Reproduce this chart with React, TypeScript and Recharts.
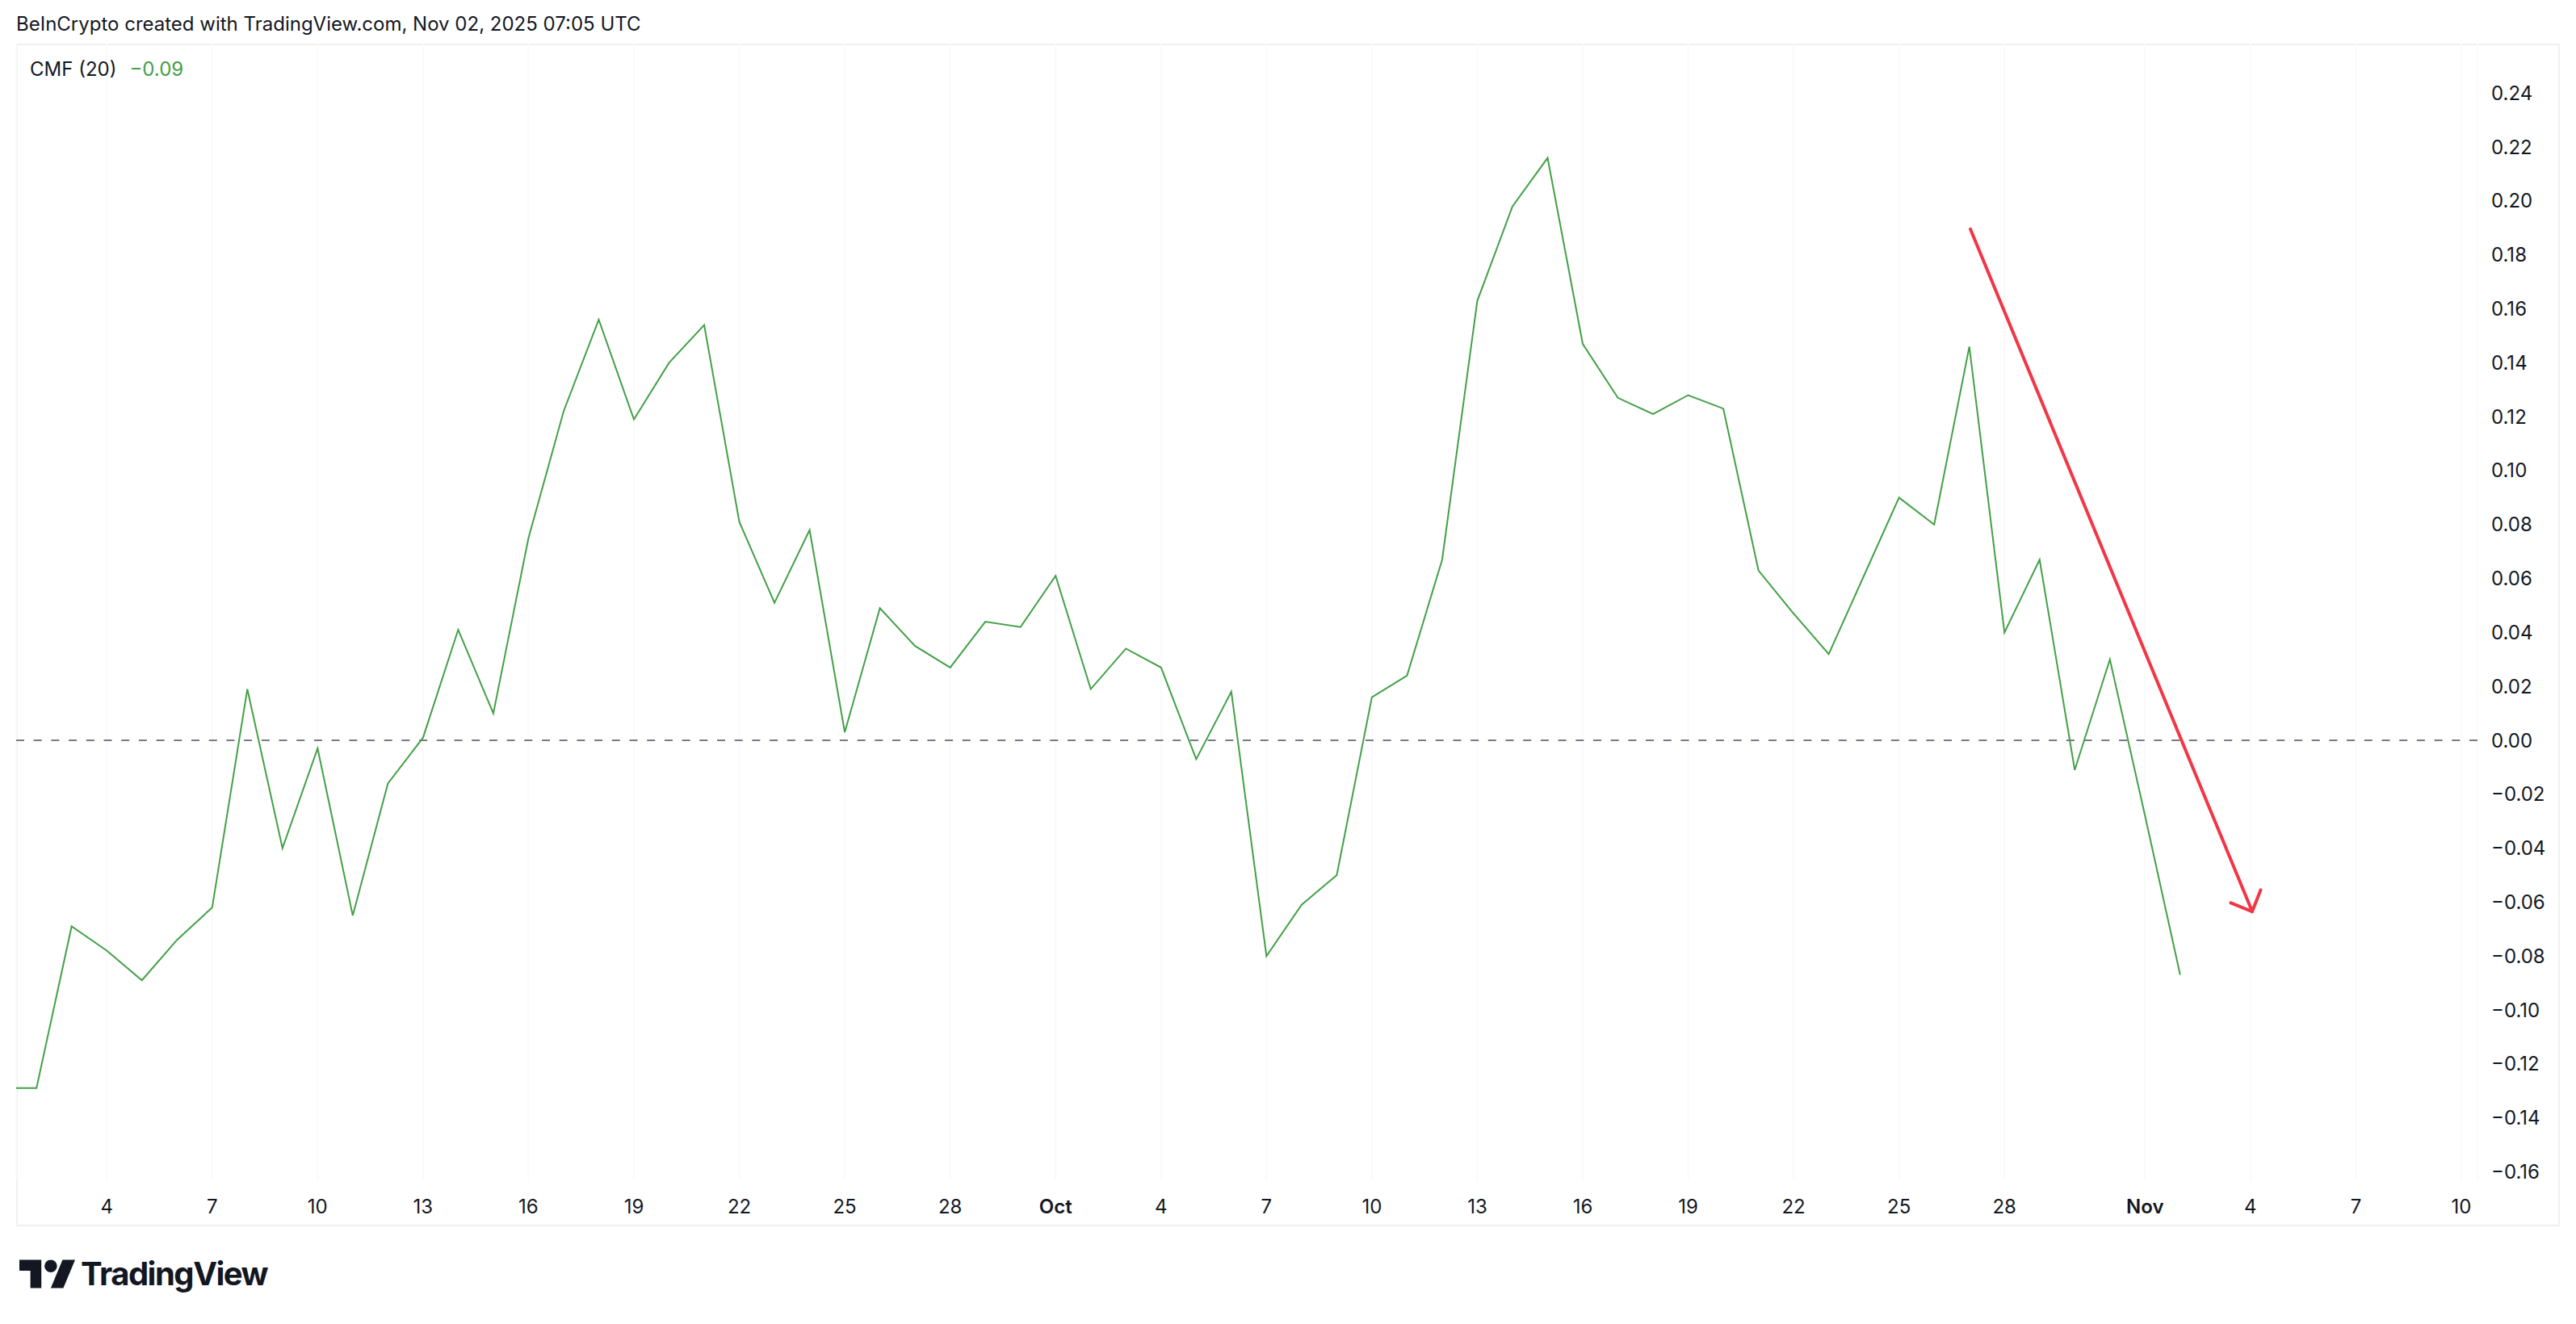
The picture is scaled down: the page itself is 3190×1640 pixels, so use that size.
import { LineChart, Line, XAxis, YAxis, CartesianGrid, ReferenceLine } from 'recharts';

// CMF (20), one value per day, Sep 1 -> Nov 2 2025 (index 0 = Sep 1)
const cmf = [
  -0.129, -0.129, -0.069, -0.078, -0.089, -0.074, -0.062, 0.019, -0.040, -0.003,
  -0.065, -0.016, 0.001, 0.041, 0.010, 0.075, 0.122, 0.156, 0.119, 0.140,
  0.154, 0.081, 0.051, 0.078, 0.003, 0.049, 0.035, 0.027, 0.044, 0.042,
  0.061, 0.019, 0.034, 0.027, -0.007, 0.018, -0.080, -0.061, -0.050, 0.016,
  0.024, 0.067, 0.163, 0.198, 0.216, 0.147, 0.127, 0.121, 0.128, 0.123,
  0.063, 0.047, 0.032, 0.061, 0.090, 0.080, 0.146, 0.040, 0.067, -0.011,
  0.030, -0.028, -0.087,
];

// x-axis ticks (day index from Sep 1) and their labels
const tickDays = [3, 6, 9, 12, 15, 18, 21, 24, 27, 30, 33, 36, 39, 42, 45, 48, 51, 54, 57, 61, 64, 67, 70];
const tickLabels = ['4', '7', '10', '13', '16', '19', '22', '25', '28', 'Oct', '4', '7', '10', '13', '16', '19', '22', '25', '28', 'Nov', '4', '7', '10'];
const monthLabels = ['Oct', 'Nov'];

const yTicks = [-0.16, -0.14, -0.12, -0.1, -0.08, -0.06, -0.04, -0.02, 0, 0.02, 0.04, 0.06, 0.08, 0.1, 0.12, 0.14, 0.16, 0.18, 0.2, 0.22, 0.24];

// red annotation arrow (day index, value)
const arrowShaft = [
  { day: 56.03, v: 0.1896 },
  { day: 64.05, v: -0.0635 },
];
const arrowHead = [
  { day: 63.44, v: -0.0603 },
  { day: 64.05, v: -0.0635 },
  { day: 64.29, v: -0.0555 },
];

const data = cmf.map((v, day) => ({ day, v }));

const FONT = 'Inter, "Noto Sans", sans-serif';
const TEXT = '#131722';
const GREEN = '#43A047';
const RED = '#F23645';

const fmt = (v: number) => {
  const s = Math.abs(v).toFixed(2);
  return v < -0.0001 ? `\u2212${s}` : s;
};

const XTick = ({ x, y, payload }: any) => {
  const idx = tickDays.indexOf(payload.value);
  const label = idx >= 0 ? tickLabels[idx] : '';
  const bold = monthLabels.includes(label);
  return (
    <text x={x} y={y} textAnchor="middle" dominantBaseline="central" fill={TEXT}
      fontSize={24} fontFamily={FONT} fontWeight={bold ? 600 : 400}>
      {label}
    </text>
  );
};

const YTick = ({ x, y, payload }: any) => (
  <text x={x} y={y} textAnchor="start" dominantBaseline="central" fill={TEXT}
    fontSize={24} fontFamily={FONT}>
    {fmt(payload.value)}
  </text>
);

function TvLogo() {
  return (
    <div style={{ position: 'absolute', left: 24, top: 1558, display: 'flex', alignItems: 'center', gap: 6 }}>
      <svg width={70} height={40} viewBox="0 3 36 20">
        <path d="M14 22H7V11H0V4h14v18z" fill="#131722" />
        <circle cx={20} cy={8} r={4} fill="#131722" />
        <path d="M28 22h-8l7.5-18h8L28 22z" fill="#131722" />
      </svg>
      <span style={{ fontFamily: FONT, fontWeight: 700, fontSize: 40, letterSpacing: -1.5, color: TEXT, lineHeight: 1 }}>
        TradingView
      </span>
    </div>
  );
}

export default function App() {
  const last = cmf[cmf.length - 1];
  return (
    <div style={{ position: 'absolute', left: 0, top: 0, width: 3190, height: 1640, background: '#fff', overflow: 'hidden' }}>
      <div style={{ position: 'absolute', left: 20, top: 54, width: 3150, height: 1465, border: '2px solid #F0F0F0', boxSizing: 'border-box' }} />
      <LineChart width={3190} height={1640} data={data} margin={{ top: 54, right: 0, bottom: 0, left: 20 }}
        style={{ position: 'absolute', left: 0, top: 0 }}>
        <CartesianGrid horizontal={false} stroke="#FAFAFA" strokeWidth={2} />
        <XAxis dataKey="day" type="number" domain={[0.4216, 70.46]} allowDataOverflow ticks={tickDays}
          interval={0} height={178} axisLine={false} tickLine={false} tickSize={0} tickMargin={32} tick={<XTick />} />
        <YAxis type="number" orientation="right" domain={[-0.16317, 0.25838]} allowDataOverflow ticks={yTicks}
          interval={0} width={122} axisLine={false} tickLine={false} tickSize={0} tickMargin={17} tick={<YTick />} />
        <ReferenceLine y={0} stroke="#787B86" strokeWidth={2} strokeDasharray="10 11.7" />
        <Line dataKey="v" type="linear" stroke={GREEN} strokeWidth={2} dot={false} activeDot={false} isAnimationActive={false} />
        <Line data={arrowShaft} dataKey="v" type="linear" stroke={RED} strokeWidth={4} strokeLinecap="round" dot={false} activeDot={false} isAnimationActive={false} />
        <Line data={arrowHead} dataKey="v" type="linear" stroke={RED} strokeWidth={4} strokeLinecap="round" strokeLinejoin="round" dot={false} activeDot={false} isAnimationActive={false} />
      </LineChart>
      <div style={{ position: 'absolute', left: 20, top: 16, fontFamily: FONT, fontSize: 24, color: TEXT, lineHeight: '28px', whiteSpace: 'nowrap' }}>
        BeInCrypto created with TradingView.com, Nov 02, 2025 07:05 UTC
      </div>
      <div style={{ position: 'absolute', left: 37, top: 72, fontFamily: FONT, fontSize: 24, lineHeight: '28px', whiteSpace: 'nowrap' }}>
        <span style={{ color: TEXT }}>CMF (20)</span>
        <span style={{ color: GREEN, marginLeft: 16 }}>{fmt(last)}</span>
      </div>
      <TvLogo />
    </div>
  );
}
